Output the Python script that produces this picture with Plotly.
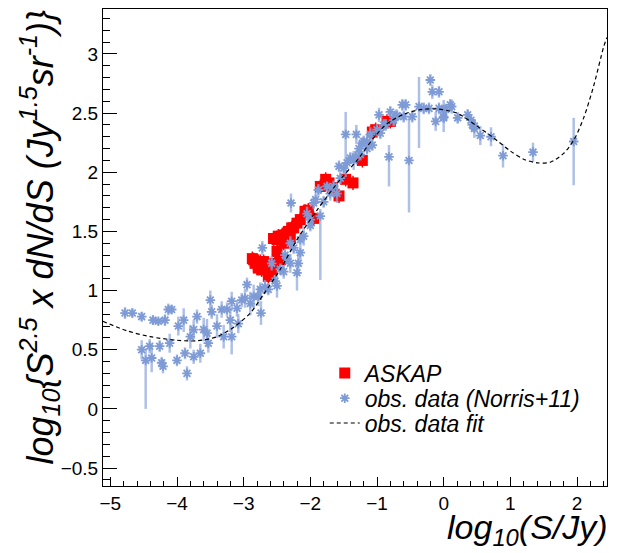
import plotly.graph_objects as go

# observed source counts (Norris+11 compilation)
obs_x = [-4.78, -4.67, -4.53, -4.53, -4.47, -4.41, -4.38, -4.36, -4.28, -4.26,
         -4.23, -4.21, -4.18, -4.13, -4.08, -4.11, -4.00, -3.98, -3.90, -3.88,
         -3.85, -3.80, -3.75, -3.75, -3.70, -3.65, -3.60, -3.55, -3.53, -3.50,
         -3.48, -3.40, -3.33, -3.30, -3.25, -3.20, -3.18, -3.18, -3.10, -3.08,
         -3.03, -2.98, -2.95, -2.90, -2.85, -2.78, -2.75, -2.74, -2.72, -2.68,
         -2.63, -2.58, -2.53, -2.50, -2.45, -2.40, -2.38, -2.35, -2.30, -2.30,
         -2.29, -2.25, -2.20, -2.18, -2.15, -2.15, -2.10, -2.05, -2.00, -2.00,
         -1.95, -1.92, -1.88, -1.85, -1.80, -1.75, -1.70, -1.65, -1.60, -1.57,
         -1.55, -1.50, -1.47, -1.45, -1.40, -1.35, -1.32, -1.31, -1.27, -1.25,
         -1.22, -1.20, -1.15, -1.15, -1.10, -1.07, -1.00, -0.97, -0.95, -0.90,
         -0.87, -0.82, -0.80, -0.75, -0.72, -0.70, -0.62, -0.60, -0.57, -0.52,
         -0.47, -0.37, -0.30, -0.22, -0.20, -0.17, -0.12, -0.07, -0.07, 0.00,
         0.00, 0.00, 0.03, 0.10, 0.12, 0.21, 0.36, 0.41, 0.43, 0.46,
         0.46, 0.55, 0.71, 0.89, 1.34, 1.95]
obs_y = [0.81, 0.81, 0.78, 0.50, 0.41, 0.53, 0.43, 0.75, 0.74, 0.53,
         0.39, 0.36, 0.75, 0.84, 0.84, 0.555, 0.41, 0.70, 0.75, 0.47,
         0.30, 0.61, 0.44, 0.67, 0.78, 0.47, 0.67, 0.64, 0.555, 0.92,
         0.82, 0.70, 0.84, 0.61, 0.84, 0.75, 0.91, 0.61, 0.85, 0.72,
         0.92, 0.935, 1.05, 0.89, 0.95, 0.95, 1.01, 0.81, 1.36, 1.03,
         1.01, 1.23, 1.08, 1.04, 1.18, 1.16, 1.30, 1.27, 1.23, 1.40,
         1.74, 1.36, 1.15, 1.23, 1.32, 1.43, 1.46, 1.65, 1.60, 1.55,
         1.74, 1.77, 1.85, 1.63, 1.75, 1.88, 1.82, 1.88, 1.82, 2.05,
         1.95, 2.035, 2.32, 2.08, 2.12, 2.10, 2.13, 2.32, 2.20, 2.15,
         2.245, 2.26, 2.26, 2.20, 2.32, 2.23, 2.36, 2.485, 2.33, 2.40,
         2.40, 2.13, 2.51, 2.44, 2.47, 2.48, 2.57, 2.47, 2.57, 2.10,
         2.47, 2.555, 2.54, 2.54, 2.78, 2.68, 2.43, 2.68, 2.54, 2.47,
         2.53, 2.46, 2.53, 2.57, 2.555, 2.46, 2.485, 2.44, 2.40, 2.39,
         2.37, 2.31, 2.30, 2.14, 2.17, 2.26]
obs_err_up = [0.05, 0.04, 0.04, 0.08, 0.10, 0.06, 0.12, 0.04, 0.03, 0.05,
              0.05, 0.06, 0.05, 0.05, 0.04, 0.08, 0.05, 0.08, 0.10, 0.05,
              0.06, 0.10, 0.06, 0.08, 0.06, 0.08, 0.10, 0.12, 0.08, 0.08,
              0.06, 0.10, 0.07, 0.10, 0.06, 0.10, 0.08, 0.10, 0.07, 0.08,
              0.06, 0.08, 0.06, 0.10, 0.10, 0.08, 0.06, 0.10, 0.06, 0.06,
              0.05, 0.06, 0.05, 0.10, 0.05, 0.06, 0.05, 0.05, 0.08, 0.06,
              0.08, 0.05, 0.06, 0.10, 0.06, 0.05, 0.08, 0.06, 0.05, 0.05,
              0.05, 0.05, 0.05, 0.06, 0.05, 0.04, 0.06, 0.05, 0.08, 0.05,
              0.05, 0.05, 0.19, 0.05, 0.05, 0.08, 0.05, 0.08, 0.06, 0.05,
              0.05, 0.05, 0.06, 0.05, 0.06, 0.05, 0.05, 0.06, 0.05, 0.05,
              0.05, 0.10, 0.05, 0.05, 0.06, 0.05, 0.05, 0.05, 0.05, 0.37,
              0.05, 0.25, 0.05, 0.05, 0.05, 0.06, 0.08, 0.05, 0.05, 0.05,
              0.08, 0.10, 0.05, 0.05, 0.06, 0.05, 0.05, 0.05, 0.06, 0.05,
              0.08, 0.08, 0.08, 0.10, 0.08, 0.20]
obs_err_down = [0.05, 0.04, 0.04, 0.08, 0.41, 0.06, 0.12, 0.04, 0.03, 0.05,
                0.05, 0.06, 0.05, 0.05, 0.04, 0.08, 0.05, 0.08, 0.10, 0.05,
                0.06, 0.10, 0.06, 0.08, 0.06, 0.08, 0.10, 0.12, 0.08, 0.08,
                0.06, 0.10, 0.07, 0.10, 0.06, 0.10, 0.08, 0.15, 0.07, 0.08,
                0.06, 0.08, 0.06, 0.10, 0.10, 0.08, 0.06, 0.10, 0.06, 0.06,
                0.05, 0.06, 0.05, 0.10, 0.05, 0.06, 0.05, 0.05, 0.08, 0.06,
                0.08, 0.05, 0.15, 0.10, 0.06, 0.05, 0.08, 0.06, 0.05, 0.05,
                0.05, 0.05, 0.05, 0.54, 0.05, 0.04, 0.06, 0.05, 0.08, 0.05,
                0.05, 0.05, 0.36, 0.05, 0.05, 0.08, 0.05, 0.08, 0.06, 0.05,
                0.05, 0.05, 0.06, 0.05, 0.06, 0.05, 0.05, 0.06, 0.05, 0.05,
                0.05, 0.25, 0.05, 0.05, 0.06, 0.05, 0.05, 0.05, 0.05, 0.44,
                0.05, 0.35, 0.05, 0.05, 0.05, 0.06, 0.08, 0.05, 0.05, 0.05,
                0.08, 0.12, 0.05, 0.05, 0.06, 0.05, 0.05, 0.05, 0.06, 0.05,
                0.08, 0.08, 0.08, 0.10, 0.08, 0.37]

# ASKAP counts
askap_x = [-2.87, -2.85, -2.83, -2.78, -2.78, -2.75, -2.73, -2.70, -2.70, -2.68,
           -2.63, -2.58, -2.55, -2.55, -2.53, -2.50, -2.50, -2.48, -2.45, -2.43,
           -2.40, -2.40, -2.35, -2.35, -2.33, -2.30, -2.28, -2.25, -2.20, -2.15,
           -2.08, -2.03, -1.95, -1.85, -1.77, -1.72, -1.67, -1.57, -1.47, -1.36,
           -1.22, -1.07, -1.02, -0.85, -0.80]
askap_y = [1.27, 1.26, 1.23, 1.19, 1.20, 1.245, 1.175, 1.245, 1.23, 1.19,
           1.12, 1.175, 1.44, 1.44, 1.23, 1.43, 1.33, 1.46, 1.26, 1.46,
           1.40, 1.47, 1.485, 1.43, 1.50, 1.44, 1.53, 1.53, 1.57, 1.60,
           1.67, 1.68, 1.61, 1.88, 1.94, 1.91, 1.87, 1.80, 1.94, 1.91,
           2.10, 2.34, 2.36, 2.43, 2.43]
askap_err = [0.06] * len(askap_x)

fit_x = [-5.11, -4.75, -4.4, -4.0, -3.7, -3.4, -3.15, -2.9, -2.7, -2.45,
         -2.2, -1.9, -1.55, -1.3, -1.05, -0.85, -0.6, -0.35, -0.1, 0.2,
         0.5, 0.75, 1.0, 1.2, 1.4, 1.6, 1.8, 1.95, 2.1, 2.25, 2.4, 2.45]
fit_y = [0.74, 0.66, 0.61, 0.58, 0.575, 0.61, 0.69, 0.81, 0.97, 1.18,
         1.43, 1.68, 1.94, 2.10, 2.29, 2.41, 2.49, 2.53, 2.535, 2.50,
         2.39, 2.29, 2.18, 2.11, 2.08, 2.085, 2.16, 2.27, 2.46, 2.73, 3.06, 3.14]

blue = '#7f9bd6'

fig = go.Figure()

fig.add_trace(go.Scatter(
    x=askap_x, y=askap_y, mode='markers', name='<i>ASKAP</i>', legend='legend',
    marker=dict(symbol='square', size=11, color='#ff0000'),
    error_y=dict(type='data', array=askap_err, color='#ff0000', thickness=1.5, width=0),
))

fig.add_trace(go.Scatter(
    x=obs_x, y=obs_y, mode='markers', name='<i>obs. data (Norris+11)</i>', legend='legend2',
    marker=dict(symbol='asterisk-open', size=8, color=blue, line=dict(width=1.8, color=blue)),
    error_y=dict(type='data', array=obs_err_up, arrayminus=obs_err_down,
                 color='rgba(140,165,220,0.7)', thickness=2.5, width=0),
))

fig.add_trace(go.Scatter(
    x=fit_x, y=fit_y, mode='lines', name='<i>obs. data fit</i>', legend='legend3',
    line=dict(color='black', width=1.2, dash='4px,3px', shape='spline', smoothing=0.8),
))

# one legend box per entry so the rows sit as tight as in the original
leg = dict(xanchor='left', yanchor='middle', bgcolor='rgba(255,255,255,0)',
           font=dict(size=23), itemwidth=30)

# page body has an 8px margin, so the figure is a bit smaller than the window
fig.update_layout(
    width=612, height=545,
    margin=dict(l=95, r=13, t=1, b=67),
    plot_bgcolor='white', paper_bgcolor='white',
    font=dict(family='Liberation Sans, Arial, sans-serif', color='black', size=19),
    showlegend=True,
    legend=dict(leg, x=0.44, y=0.237),
    legend2=dict(leg, x=0.44, y=0.184),
    legend3=dict(leg, x=0.44, y=0.132),
    xaxis=dict(range=[-5.11, 2.45], showgrid=False, zeroline=False,
               showline=True, linecolor='black', linewidth=1, mirror=True,
               ticks='inside', ticklen=9, tickcolor='black', dtick=1, tick0=0,
               minor=dict(dtick=0.2, ticks='inside', ticklen=5, tickcolor='black', showgrid=False)),
    yaxis=dict(range=[-0.652, 3.38], showgrid=False, zeroline=False,
               showline=True, linecolor='black', linewidth=1, mirror=True,
               ticks='inside', ticklen=14, tickcolor='black', dtick=0.5, tick0=0,
               minor=dict(dtick=0.1, ticks='inside', ticklen=7, tickcolor='black', showgrid=False)),
)

fig.add_annotation(
    text='<i>log</i><sub><i>10</i></sub><i>(S/Jy)</i>',
    xref='paper', yref='paper', x=1.006, y=-0.042,
    xanchor='right', yanchor='top', showarrow=False,
    font=dict(size=34),
)
fig.add_annotation(
    text='<i>log</i><sub><i>10</i></sub><i>{S</i><sup><i>2.5</i></sup><i> x dN/dS (Jy</i>'
         '<sup><i>1.5</i></sup><i>sr</i><sup><i>-1</i></sup><i>)}</i>',
    xref='paper', yref='paper', x=-0.125, y=1.002,
    xanchor='center', yanchor='top', textangle=-90, showarrow=False,
    font=dict(size=36),
)

fig.write_html("out.html")
